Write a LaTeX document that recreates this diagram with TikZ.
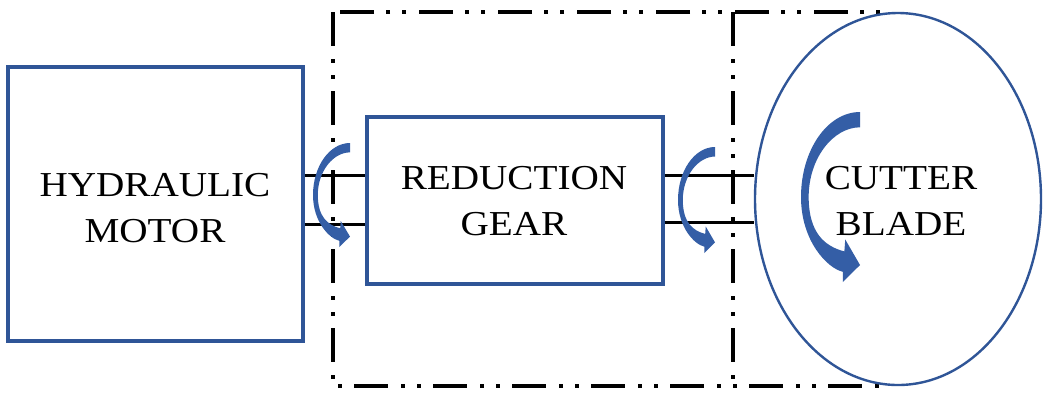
\documentclass[tikz,border=0pt]{standalone}
\usepackage{fontspec}
\setmainfont{Liberation Serif}[FakeStretch=1.12]
\usetikzlibrary{shapes.geometric}

\definecolor{boxblue}{RGB}{47,85,151}
\definecolor{arrowblue}{RGB}{52,94,166}

\tikzset{
  dashdot/.style={line width=3.6pt,
    dash pattern=on 34pt off 13pt on 4pt off 12pt on 4pt off 12pt},
  labelfont/.style={font=\fontsize{35}{46}\selectfont},
  block/.style={draw=boxblue, line width=3.2pt, fill=white, align=center,
    inner sep=0pt, labelfont},
  shaft/.style={line width=3pt},
  turnfill/.style={fill=arrowblue},
}

% curved rotation arrow, fitted into a box of width #3 and height #4
% whose top-left corner is at (#1,#2)
\newcommand\turnarrow[4]{%
  \fill[turnfill, shift={(#1,#2)}, xscale=#3, yscale=#4]
    (1,0) .. controls (0.448,0) and (0,0.224) .. (0,0.5)
    .. controls (0,0.76) and (0.45,0.92) .. (0.71,0.94)
    -- (0.71,1) -- (1,0.9) -- (0.75,0.75) -- (0.735,0.82)
    .. controls (0.4,0.79) and (0.13,0.71) .. (0.13,0.5)
    .. controls (0.13,0.27) and (0.55,0.09) .. (1,0.09) -- cycle;}

\begin{document}
\begin{tikzpicture}[x=1pt,y=-1pt]
  \useasboundingbox (0,0) rectangle (1047,392);

  % housing outlines
  \draw[dashdot] (333,12) rectangle (888,386);
  \draw[dashdot] (733,12) -- (733,386);

  % cutter blade
  \node[draw=boxblue, line width=2.4pt, fill=white, ellipse,
        minimum width=286, minimum height=372, inner sep=0pt] (blade) at (898,199) {};
  \node[align=center, labelfont, inner sep=0pt] (bladetext) at (901,201) {CUTTER\\BLADE};

  % motor and gear blocks
  \node[block, minimum width=295, minimum height=274] (motor) at (155.5,204) {};
  \node[align=center, labelfont, inner sep=0pt] (motortext) at (155,208) {HYDRAULIC\\MOTOR};
  \node[block, minimum width=296, minimum height=167] (gear) at (515,200.5) {};
  \node[align=center, labelfont, inner sep=0pt] (geartext) at (514,201) {REDUCTION\\GEAR};

  % shafts
  \coordinate (up) at (0,175);
  \coordinate (lo) at (0,224);
  \coordinate (lor) at (0,222);
  \draw[shaft] (motor.east |- up) -- (gear.west |- up);
  \draw[shaft] (motor.east |- lo) -- (gear.west |- lo);
  \draw[shaft] (gear.east |- up) -- (blade.west |- up);
  \draw[shaft] (gear.east |- lor) -- (blade.west |- lor);

  % rotation arrows
  \turnarrow{313}{143}{37}{104}
  \turnarrow{678}{147}{37}{106}
  \turnarrow{801}{112}{59}{170}
\end{tikzpicture}
\end{document}
